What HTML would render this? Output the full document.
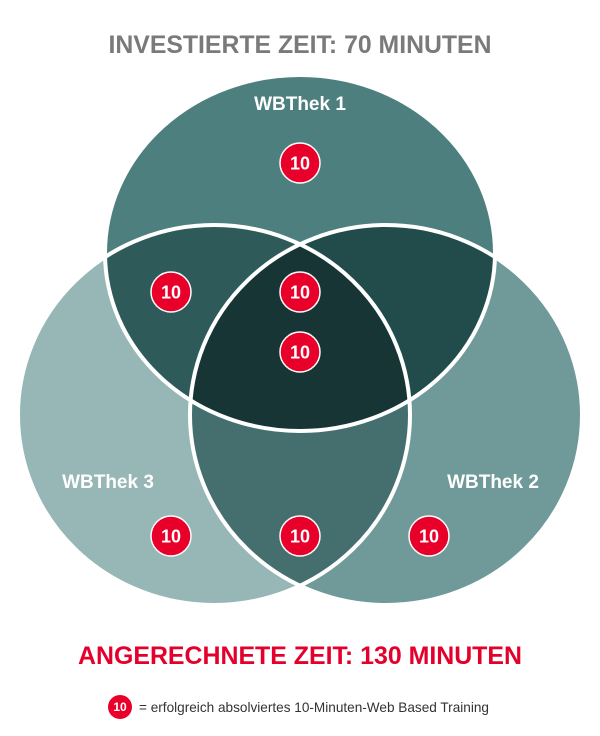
<!DOCTYPE html>
<html><head><style>body{margin:0;background:#fff}svg{display:block}</style></head><body>
<svg width="600" height="736" viewBox="0 0 600 736" xmlns="http://www.w3.org/2000/svg" font-family="Liberation Sans, Arial, sans-serif">
<defs>
<clipPath id="cT"><ellipse cx="300" cy="253" rx="195" ry="178"/></clipPath>
<clipPath id="cL"><ellipse cx="214" cy="415" rx="196" ry="190"/></clipPath>
<clipPath id="cR"><ellipse cx="386" cy="415" rx="196" ry="190"/></clipPath>
</defs>
<text x="300" y="53" text-anchor="middle" font-size="24.8" font-weight="bold" fill="#7a7a7a">INVESTIERTE ZEIT: 70 MINUTEN</text>
<ellipse cx="214" cy="415" rx="196" ry="190" fill="#97b6b6"/>
<ellipse cx="386" cy="415" rx="196" ry="190" fill="#6f9a99"/>
<ellipse cx="300" cy="253" rx="195" ry="178" fill="#4e7f7f"/>
<g clip-path="url(#cT)"><ellipse cx="214" cy="415" rx="196" ry="190" fill="#2e5a5a"/><ellipse cx="386" cy="415" rx="196" ry="190" fill="#224c4b"/></g>
<g clip-path="url(#cL)"><ellipse cx="386" cy="415" rx="196" ry="190" fill="#456f6e"/></g>
<g clip-path="url(#cL)"><g clip-path="url(#cR)"><ellipse cx="300" cy="253" rx="195" ry="178" fill="#173535"/></g></g>
<g fill="none" stroke="#fff" stroke-width="4">
<ellipse cx="300" cy="253" rx="195" ry="178"/><ellipse cx="214" cy="415" rx="196" ry="190"/><ellipse cx="386" cy="415" rx="196" ry="190"/>
</g>
<g font-weight="bold" font-size="19" fill="#fff" text-anchor="middle">
<text x="300" y="110">WBThek 1</text>
<text x="108" y="488">WBThek 3</text>
<text x="493" y="488">WBThek 2</text>
</g>
<g fill="#e8002a" stroke="#fff" stroke-width="1.5">
<circle cx="300" cy="163" r="20"/><circle cx="171" cy="292" r="20"/><circle cx="300" cy="292" r="20"/><circle cx="300" cy="352" r="20"/>
<circle cx="171" cy="536" r="20"/><circle cx="300" cy="536" r="20"/><circle cx="429" cy="536" r="20"/>
</g>
<g font-weight="bold" font-size="18" fill="#fff" text-anchor="middle">
<text x="300" y="169.5">10</text><text x="171" y="298.5">10</text><text x="300" y="298.5">10</text><text x="300" y="358.5">10</text>
<text x="171" y="542.5">10</text><text x="300" y="542.5">10</text><text x="429" y="542.5">10</text>
</g>
<text x="300" y="664" text-anchor="middle" font-size="24.9" font-weight="bold" fill="#e4002b">ANGERECHNETE ZEIT: 130 MINUTEN</text>
<circle cx="120" cy="707" r="12" fill="#e8002a"/>
<text x="120" y="711" text-anchor="middle" font-size="12" font-weight="bold" fill="#fff">10</text>
<text x="139" y="712" font-size="13.6" fill="#333">= erfolgreich absolviertes 10-Minuten-Web Based Training</text>
</svg>
</body></html>
